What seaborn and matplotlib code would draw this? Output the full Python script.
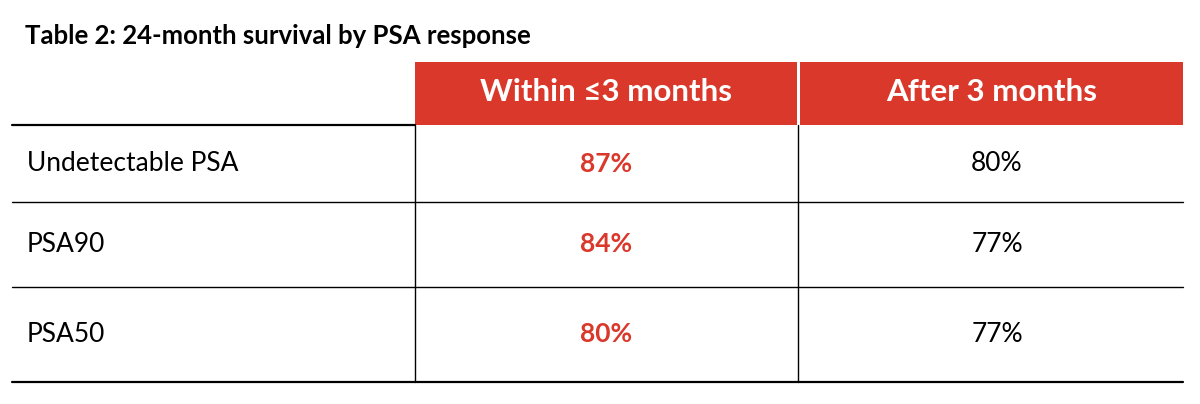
import matplotlib
matplotlib.use("Agg")
import matplotlib.pyplot as plt
import seaborn as sns

title = "Table 2: 24-month survival by PSA response"
columns = ["Within ≤3 months", "After 3 months"]
rows = ["Undetectable PSA", "PSA90", "PSA50"]
within = ["87%", "84%", "80%"]
after = ["80%", "77%", "77%"]

sns.set_theme(style="white")
plt.rcParams['font.family'] = ['Lato', 'DejaVu Sans']
red = "#D9382B"

fig = plt.figure(figsize=(12, 4.04), dpi=100)
ax = fig.add_axes([0, 0, 1, 1])
ax.set_xlim(0, 1200)
ax.set_ylim(404, 0)
ax.axis("off")

ax.text(25, 36, title, fontsize=18.5, fontweight="bold", va="center", ha="left", color="black")

col_x = [(415, 797), (800, 1183)]
for (x0, x1), name in zip(col_x, columns):
    ax.add_patch(plt.Rectangle((x0, 62), x1 - x0, 63, color=red, lw=0))
    ax.text((x0 + x1) / 2, 92, name, color="white", fontsize=22.5, fontweight="bold",
            ha="center", va="center")

row_top = [125, 202, 287]
row_bot = [202, 287, 382]
ax.plot([12, 415], [125, 125], color="black", lw=1.6)
for i, name in enumerate(rows):
    yc = (row_top[i] + row_bot[i]) / 2
    ax.text(27, yc, name, fontsize=19, ha="left", va="center", color="black")
    ax.text(606, yc, within[i], fontsize=19, fontweight="bold", color=red, ha="center", va="center")
    ax.text(997, yc, after[i], fontsize=19, ha="center", va="center", color="black")
    lw = 1.6 if i == len(rows) - 1 else 1.0
    ax.plot([12, 1183], [row_bot[i], row_bot[i]], color="black", lw=lw)

for x in [415, 798]:
    ax.plot([x, x], [125, 382], color="black", lw=1.0)

fig.savefig("out.png", dpi=100, facecolor="white")
